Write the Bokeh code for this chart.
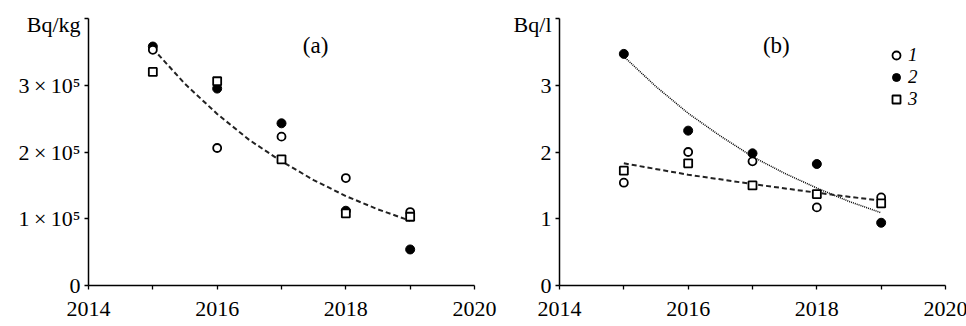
from bokeh.plotting import figure
from bokeh.layouts import row
from bokeh.models import Range1d, FixedTicker, Label, Legend, LegendItem
from bokeh.embed import file_html
from bokeh.resources import INLINE

years = [2015, 2016, 2017, 2018, 2019]

# panel (a), Bq/kg
a_s1 = [3.53e5, 2.06e5, 2.23e5, 1.61e5, 1.10e5]   # open circles (1)
a_s2 = [3.58e5, 2.95e5, 2.43e5, 1.12e5, 0.54e5]   # filled circles (2)
a_s3 = [3.20e5, 3.06e5, 1.89e5, 1.08e5, 1.03e5]   # squares (3)
trend_a_x = [2015, 2015.5, 2016, 2016.5, 2017, 2017.5, 2018, 2018.5, 2019]
trend_a_y = [3.55e5, 3.02e5, 2.57e5, 2.18e5, 1.86e5, 1.58e5, 1.34e5, 1.14e5, 0.97e5]

# panel (b), Bq/l
b_s1 = [1.54, 2.00, 1.86, 1.17, 1.32]
b_s2 = [3.47, 2.32, 1.98, 1.82, 0.94]
b_s3 = [1.72, 1.83, 1.50, 1.37, 1.23]
trend_b1_x = [2015, 2015.5, 2016, 2016.5, 2017, 2017.5, 2018, 2018.5, 2019]
trend_b1_y = [3.43, 2.98, 2.58, 2.24, 1.93, 1.68, 1.46, 1.26, 1.09]
trend_b2_x = [2015, 2016, 2017, 2018, 2019]
trend_b2_y = [1.83, 1.66, 1.52, 1.39, 1.27]

x_ticks = [2014, 2016, 2018, 2020]
x_minor = [2015, 2017, 2019]

a_tick_marks = [0, 100000, 200000, 300000, 400000]
a_label_pos = [0, 100000, 200000, 300000, 391000]
a_ylabels = {0: "0", 100000: "1\u2009\u00d7\u200910\u2075", 200000: "2\u2009\u00d7\u200910\u2075",
             300000: "3\u2009\u00d7\u200910\u2075", 391000: "Bq/kg"}
b_tick_marks = [0, 1, 2, 3, 4]
b_label_pos = [0, 1, 2, 3, 3.91]
b_ylabels = {0: "0", 1: "1", 2: "2", 3: "3", 3.91: "Bq/l"}
legend_labels = ["1", "2", "3"]

FONT = "Liberation Serif"


def make_fig(ymax, label_pos, tick_marks, ylabels, left_border, right_border):
    p = figure(frame_width=386, frame_height=267, output_backend="svg", toolbar_location=None,
               x_range=Range1d(2014, 2020), y_range=Range1d(0, ymax),
               min_border_left=left_border, min_border_right=right_border,
               min_border_top=18, min_border_bottom=38)
    p.outline_line_color = None
    p.xgrid.visible = False
    p.ygrid.visible = False
    p.xaxis.ticker = FixedTicker(ticks=x_ticks, minor_ticks=x_minor)
    p.yaxis.ticker = FixedTicker(ticks=label_pos, minor_ticks=tick_marks)
    p.yaxis.major_label_overrides = ylabels
    for ax in (p.xaxis[0], p.yaxis[0]):
        ax.axis_line_color = "black"
        ax.axis_line_width = 1.5
        ax.major_tick_line_color = "black"
        ax.major_tick_line_width = 1.3
        ax.minor_tick_line_color = "black"
        ax.minor_tick_line_width = 1.3
        ax.major_tick_in = 0
        ax.major_tick_out = 4
        ax.minor_tick_in = 0
        ax.minor_tick_out = 4
        ax.major_label_text_font = FONT
        ax.major_label_text_font_size = "22px"
        ax.major_label_text_color = "black"
    p.yaxis.major_tick_line_color = None
    p.xaxis.major_label_standoff = 12
    p.yaxis.major_label_standoff = 4
    return p


def add_points(p, s1, s2, s3):
    r2 = p.scatter(years, s2, marker="circle", size=9, fill_color="black", line_color="black")
    r1 = p.scatter(years, s1, marker="circle", size=8, fill_color="white", line_color="black",
                   line_width=1.8)
    r3 = p.scatter(years, s3, marker="square", size=8, fill_color="white", line_color="black",
                   line_width=1.8)
    return r1, r2, r3


# ---- panel (a)
pa = make_fig(400000, a_label_pos, a_tick_marks, a_ylabels, 88, 36)
pa.line(trend_a_x, trend_a_y, line_color="#222222", line_width=2, line_dash="5 3")
add_points(pa, a_s1, a_s2, a_s3)
pa.add_layout(Label(x=2017.53, y=360000, text="(a)", text_font=FONT, text_font_size="23px",
                    text_align="center", text_baseline="middle", text_color="black"))

# ---- panel (b)
pb = make_fig(4, b_label_pos, b_tick_marks, b_ylabels, 43, 24)
pb.line(trend_b1_x, trend_b1_y, line_color="black", line_width=1.5, line_dash="1 1")
pb.line(trend_b2_x, trend_b2_y, line_color="#222222", line_width=2, line_dash="5 3")
r1, r2, r3 = add_points(pb, b_s1, b_s2, b_s3)
pb.add_layout(Label(x=2017.37, y=3.6, text="(b)", text_font=FONT, text_font_size="23px",
                    text_align="center", text_baseline="middle", text_color="black"))

legend = Legend(items=[LegendItem(label=legend_labels[0], renderers=[r1]),
                       LegendItem(label=legend_labels[1], renderers=[r2]),
                       LegendItem(label=legend_labels[2], renderers=[r3])],
                location=(327, 175), orientation="vertical",
                label_text_font=FONT, label_text_font_style="italic",
                label_text_font_size="19px", label_text_color="black",
                glyph_width=20, glyph_height=20, label_height=20, label_standoff=2,
                spacing=0, padding=0, margin=0,
                border_line_color=None, background_fill_alpha=0)
pb.add_layout(legend)

layout = row(pa, pb)
open("out.html", "w").write(file_html(layout, INLINE))
